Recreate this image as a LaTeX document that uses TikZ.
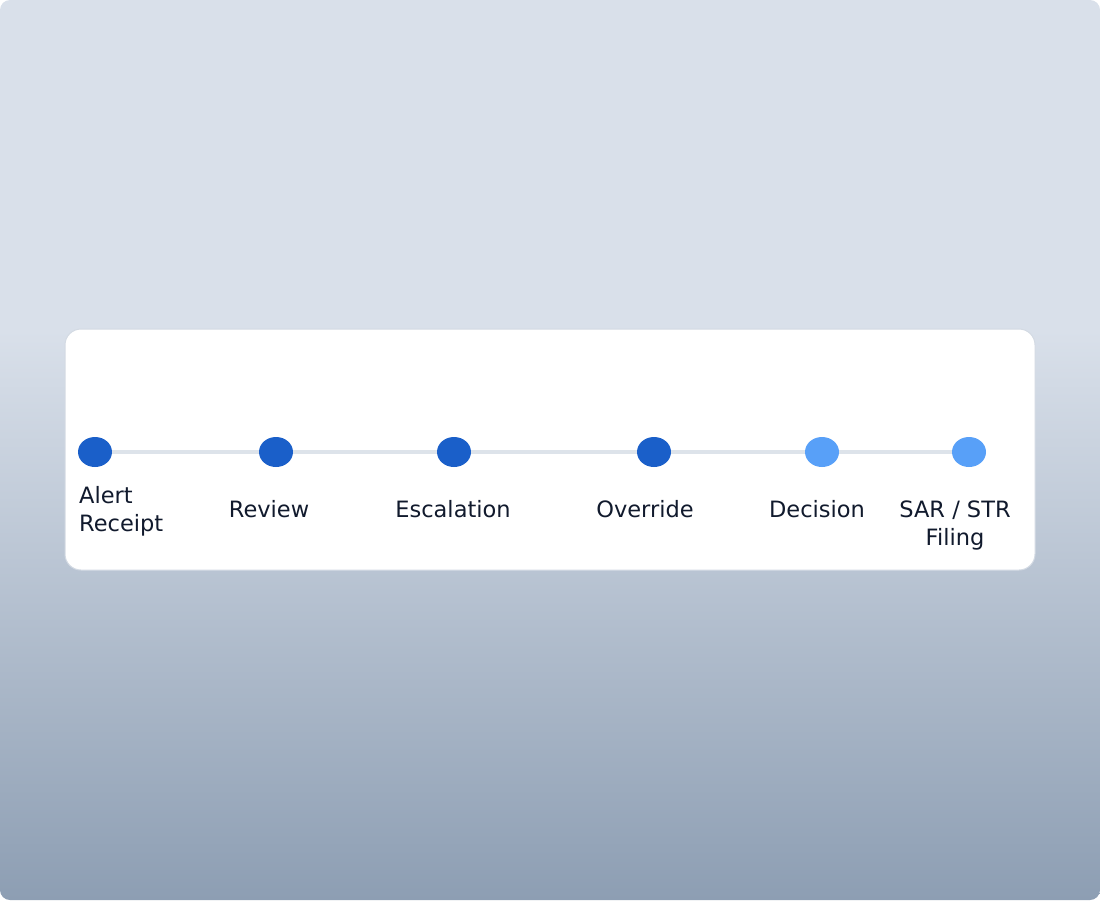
\documentclass[tikz,border=0pt]{standalone}
\usepackage{fontspec}
\setmainfont{DejaVu Sans}
\usetikzlibrary{positioning, shapes.geometric}

\definecolor{bgtop}{HTML}{D9E0EA}
\definecolor{bgbot}{HTML}{8D9EB3}
\definecolor{cardedge}{HTML}{D3DAE3}
\definecolor{trackgray}{HTML}{DDE3EA}
\definecolor{stepdark}{HTML}{1A5FC9}
\definecolor{steplight}{HTML}{58A0F8}
\definecolor{inkdark}{HTML}{111A2D}

\begin{document}
\begin{tikzpicture}[
  x=1pt, y=-1pt,
  dot/.style={ellipse, minimum width=34pt, minimum height=30pt, inner sep=0pt},
  track/.style={draw=trackgray, line width=4pt},
  lbl/.style={text=inkdark, font=\fontsize{22.5}{28}\selectfont, inner sep=0pt, anchor=base}
]
  \useasboundingbox (0,0) rectangle (1100,900);

  % backdrop
  \begin{scope}
    \clip[rounded corners=10pt] (0,0) rectangle (1100,900);
    \fill[bgtop] (0,0) rectangle (1100,331);
    \shade[top color=bgtop, bottom color=bgbot] (0,330) rectangle (1100,900);
  \end{scope}

  % card
  \draw[cardedge, fill=white, rounded corners=16pt, line width=1pt]
    (65,329) rectangle (1035,570);

  % steps
  \node[dot, fill=stepdark]  (alert)  at (95,452)  {};
  \node[dot, fill=stepdark]  (review) at (276,452) {};
  \node[dot, fill=stepdark]  (escal)  at (454,452) {};
  \node[dot, fill=stepdark]  (overr)  at (654,452) {};
  \node[dot, fill=steplight] (decis)  at (822,452) {};
  \node[dot, fill=steplight] (filing) at (969,452) {};

  \path[track]
    (alert) -- (review)
    (review) -- (escal)
    (escal) -- (overr)
    (overr) -- (decis)
    (decis) -- (filing);

  % labels
  \node[lbl, anchor=base west] (alertA) at (79,503) {Alert};
  \node[lbl, anchor=base west] (alertB) at (79,531) {Receipt};
  \node[lbl] (reviewL) at (269,517) {Review};
  \node[lbl] (escalL)  at (453,517) {Escalation};
  \node[lbl] (overrL)  at (645,517) {Override};
  \node[lbl] (decisL)  at (817,517) {Decision};
  \node[lbl] (filingA) at (955,517) {SAR / STR};
  \node[lbl] (filingB) at (955,545) {Filing};
\end{tikzpicture}
\end{document}
